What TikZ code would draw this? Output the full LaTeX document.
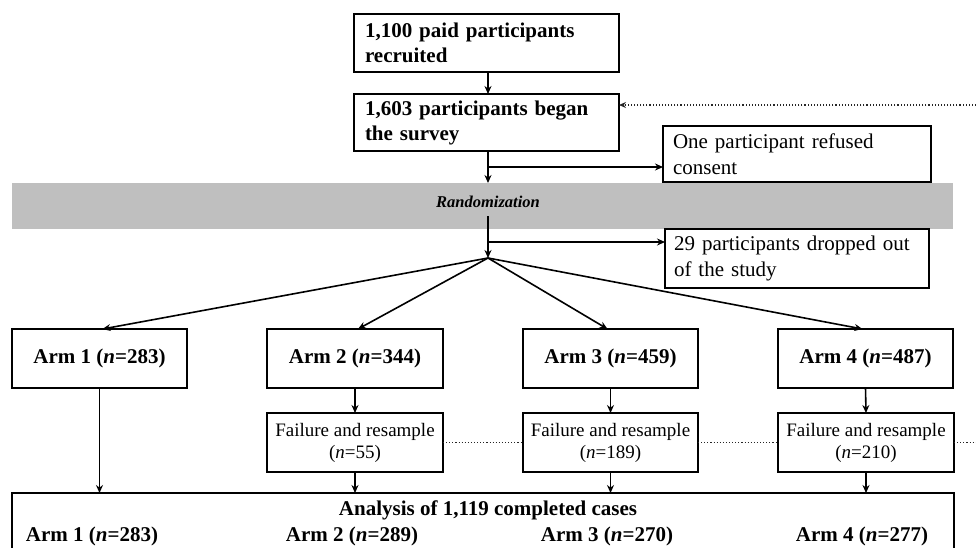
\documentclass[tikz,border=0pt]{standalone}
\usepackage{fontspec}
\setmainfont{Liberation Serif}
\usetikzlibrary{arrows.meta,calc}
\begin{document}
\begin{tikzpicture}[x=1pt,y=-1pt,
  every node/.style={inner sep=0pt,outer sep=0pt},
  boxb/.style={draw,line width=1.6pt,rectangle,align=left,
    font=\fontsize{21}{25}\selectfont\bfseries},
  boxr/.style={draw,line width=1.6pt,rectangle,align=left,
    font=\fontsize{21}{26}\selectfont},
  armbox/.style={draw,line width=1.6pt,rectangle,minimum height=59pt,
    font=\fontsize{21}{25}\selectfont\bfseries},
  failbox/.style={draw,line width=1.6pt,rectangle,minimum height=59pt,align=center,
    font=\fontsize{19}{22}\selectfont},
  arr/.style={line width=1.6pt,-{Stealth[length=8pt,width=7pt]}},
  dots/.style={line width=1.1pt,dotted,draw=black!85},
  anatext/.style={font=\fontsize{21}{25}\selectfont\bfseries}]
\useasboundingbox (0,0) rectangle (976,547);
\clip (0,0) rectangle (976,547);
\fill[white] (0,0) rectangle (976,547);
% gray band
\fill[black!25] (12,183) rectangle (953,229);
\node[font=\fontsize{16.5}{20}\selectfont\bfseries\itshape] (rand) at (488,202) {Randomization};
% top boxes
\node[boxb,minimum width=265pt,minimum height=58pt,text width=243pt] (b1) at (486.5,43)
  {1,100 paid participants\\recruited};
\node[boxb,minimum width=265pt,minimum height=57pt,text width=243pt] (b2) at (486.5,122.5)
  {1,603 participants began\\the survey};
\node[boxr,minimum width=268pt,minimum height=56pt,text width=248pt] (cons) at (797,154)
  {One participant refused\\consent};
\node[boxr,minimum width=264pt,minimum height=59pt,text width=246pt] (drop) at (797,258.5)
  {29 participants dropped out\\of the study};
% arms
\node[armbox,minimum width=175pt] (a1) at (99.5,358.5) {Arm 1 (\textit{n}=283)};
\node[armbox,minimum width=176pt] (a2) at (355,358.5) {Arm 2 (\textit{n}=344)};
\node[armbox,minimum width=175pt] (a3) at (610.5,358.5) {Arm 3 (\textit{n}=459)};
\node[armbox,minimum width=175pt] (a4) at (865.5,358.5) {Arm 4 (\textit{n}=487)};
% failures
\node[failbox,minimum width=176pt] (f2) at (355,442.5) {Failure and resample\\(\textit{n}=55)};
\node[failbox,minimum width=175pt] (f3) at (610.5,442.5) {Failure and resample\\(\textit{n}=189)};
\node[failbox,minimum width=176pt] (f4) at (866,442.5) {Failure and resample\\(\textit{n}=210)};
% analysis
\node[draw,line width=1.6pt,rectangle,minimum width=942pt,minimum height=80pt] (ana) at (483,533) {};
\node[anatext] (anat) at (488,510) {Analysis of 1,119 completed cases};
\node[anatext] (r1) at (92,536) {Arm 1 (\textit{n}=283)};
\node[anatext] (r2) at (352,536) {Arm 2 (\textit{n}=289)};
\node[anatext] (r3) at (607,536) {Arm 3 (\textit{n}=270)};
\node[anatext] (r4) at (862,536) {Arm 4 (\textit{n}=277)};
% coordinates
\coordinate (c1) at (488,167);
\coordinate (rb) at (488,216);
\coordinate (c2) at (488,242);
\coordinate (sp) at (488,258);
\coordinate (bt) at (488,183);
\coordinate (rt) at (976,105);
\coordinate (rf) at (976,442.5);
% connectors
\draw[arr] (c1 |- b1.south) -- (c1 |- b2.north);
\draw[arr] (c1 |- b2.south) -- (bt);
\draw[arr] (c1) -- (cons.west |- c1);
\draw[arr] (rb) -- (sp);
\draw[arr] (c2) -- (drop.west |- c2);
\draw[arr] (sp) -- ($(a1.north)+(3,0)$);
\draw[arr] (sp) -- ($(a2.north)+(3,0)$);
\draw[arr] (sp) -- ($(a3.north)+(-3,0)$);
\draw[arr] (sp) -- ($(a4.north)+(-3,0)$);
\draw[arr] (a1.south) -- (a1.south |- ana.north);
\draw[arr] (a2.south) -- (f2.north);
\draw[arr] (a3.south) -- (f3.north);
\draw[arr] (a4.south) -- (f4.north);
\draw[arr] (f2.south) -- (f2.south |- ana.north);
\draw[arr] (f3.south) -- (f3.south |- ana.north);
\draw[arr] (f4.south) -- (f4.south |- ana.north);
% dotted resample links
\draw[dots] (f2.east) -- (f3.west);
\draw[dots] (f3.east) -- (f4.west);
\draw[dots] (f4.east) -- (rf);
\draw[dots,-{Stealth[length=7pt,width=6pt]}] (rt) -- (b2.east |- rt);
\end{tikzpicture}
\end{document}
